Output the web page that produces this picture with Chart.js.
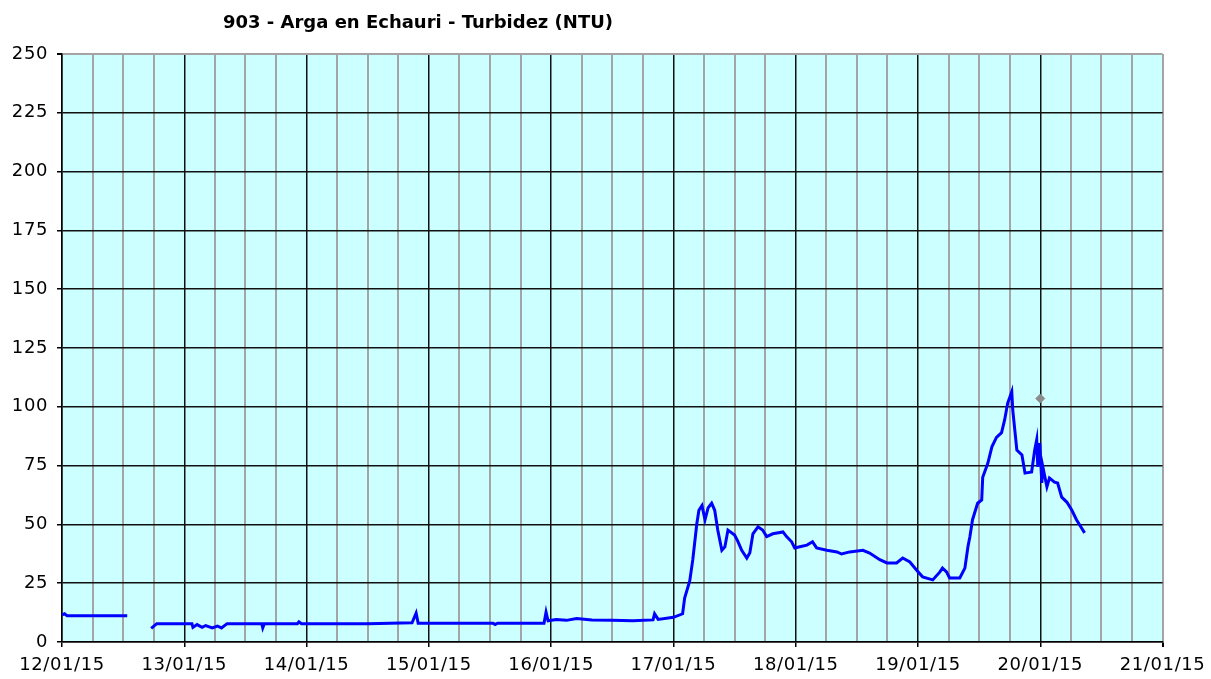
<!DOCTYPE html>
<html>
<head>
<meta charset="utf-8">
<script src="https://cdn.jsdelivr.net/npm/chart.js@4"></script>
<style>
  html, body { margin: 0; padding: 0; background: #fff; }
  #wrap { width: 1211px; height: 679px; }
</style>
</head>
<body>
<div id="wrap"><canvas id="turbChart" width="1211" height="679"></canvas></div>
<script>
// x = hours since 12/01/15 00:00, y = turbidity (NTU); null = gap in the record
const hours = [
  0, 0.5, 1, 12.8, null,
  17.5, 18.6, 25.5, 25.7, 26.5, 27.5, 28.2, 29.5, 30.5, 31.3, 32.4, 39.2, 39.4, 39.7, 46.2, 46.5, 47,
  60, 68.7, 69.5, 69.9, 78, 84.6, 85, 85.5, 94.6, 95, 95.4, 97, 99, 101, 104, 108, 112, 116, 116.3, 117,
  120, 121.8, 122.2, 123.2, 123.8, 124.6, 125, 125.6, 126.2, 126.8, 127.5, 128.1, 128.7, 129.5, 130.1,
  130.7, 132, 132.6, 133.4, 134.4, 135, 135.6, 136.6, 137.5, 138.3, 139.5, 141.5, 142.2, 143.2, 143.8,
  144.8, 146.2, 147.3, 148.1, 150.1, 152.1, 153, 154.6, 157.2, 158.5, 160.5, 161.9, 163.8, 165, 166.4,
  167.7, 168.9, 170.9, 172.3, 172.8, 173.6, 174.2, 176.2, 177.2, 177.8, 178.2, 178.7, 179.7, 180.5,
  180.7, 181.7, 182.5, 183.4, 184.4, 185, 185.6, 186.4, 186.6, 187.4, 188.4, 189, 190.3, 190.9, 191.3,
  191.5, 191.9, 192.3, 192.5, 193.3, 193.8, 194.8, 195.4, 196.2, 197.2, 198.2, 199.1, 200.1, 200.7
];
const ntu = [
  11.5, 12, 11.2, 11.2, null,
  5.8, 7.8, 7.8, 6.2, 7.4, 6.2, 7, 6, 6.8, 6, 7.8, 7.8, 6, 7.8, 7.8, 8.6, 7.8,
  7.8, 8.2, 12.3, 8, 8, 8, 7.4, 8, 8, 12.7, 9, 9.6, 9.2, 10, 9.4, 9.2, 9, 9.4, 12, 9.6,
  10.5, 12, 18.7, 26, 35, 50.5, 56, 58, 52, 57, 59, 56, 47.6, 39, 40.5,
  47.6, 45.5, 43, 39, 35.7, 38, 46, 49, 47.6, 44.8, 46, 46.8, 44.8, 42.6, 40,
  40.5, 41.2, 42.6, 40, 39, 38.3, 37.4, 38.3, 39, 37.8, 35, 33.6, 33.6, 35.7, 34,
  30.6, 27.7, 26.4, 29.8, 31.4, 29.8, 27.2, 27.2, 31.4, 40.5, 45, 52, 59, 60.4,
  70, 76, 83, 87, 89, 94.4, 101.6, 106.4, 98.6, 81.6, 79.5, 71.8, 72.3, 81.6, 86,
  74.5, 84.6, 67.6, 74.5, 66, 69.7, 68, 67.6, 61.6, 59.5, 56, 52, 48.5, 46.4
];
// isolated grey marker
const markerHours = [192];
const markerNtu = [103.5];

const dayLabels = ['12/01/15', '13/01/15', '14/01/15', '15/01/15', '16/01/15',
  '17/01/15', '18/01/15', '19/01/15', '20/01/15', '21/01/15'];
const titleText = '903 - Arga en Echauri - Turbidez (NTU)';

const FONT = 'DejaVu Sans';
const GREY = '#a4a4a4';

const plotBg = {
  id: 'plotBg',
  beforeDraw(chart) {
    const a = chart.chartArea, c = chart.ctx;
    c.fillStyle = '#ccffff';
    c.fillRect(a.left, a.top, a.right - a.left, a.bottom - a.top);
    c.letterSpacing = '0.6px';
  },
  afterDraw(chart) {
    const c = chart.ctx;
    c.save();
    c.letterSpacing = '0px';
    c.font = 'bold 18px "' + FONT + '"';
    c.fillStyle = '#000';
    c.textAlign = 'center';
    c.textBaseline = 'middle';
    c.fillText(titleText, 418, 23);
    c.restore();
  }
};

const ctx = document.getElementById('turbChart').getContext('2d');
new Chart(ctx, {
  type: 'line',
  data: {
    datasets: [{
      data: hours.map((h, i) => ({ x: h, y: ntu[i] })),
      borderColor: '#0000ff',
      borderWidth: 3,
      pointRadius: 0,
      tension: 0,
      spanGaps: false
    }, {
      data: markerHours.map((h, i) => ({ x: h, y: markerNtu[i] })),
      showLine: false,
      pointStyle: 'rectRot',
      pointRadius: 4.5,
      pointBackgroundColor: '#8c8c8c',
      pointBorderColor: '#8c8c8c'
    }]
  },
  options: {
    responsive: false,
    animation: false,
    layout: { padding: { top: 54, right: 48, left: 0, bottom: 0 } },
    plugins: {
      legend: { display: false },
      tooltip: { enabled: false }
    },
    scales: {
      x: {
        type: 'linear',
        min: 0,
        max: 216,
        afterFit(s) { s.height = 37; },
        border: { color: '#000', width: 1.5 },
        grid: {
          color: c => (c.tick && c.tick.value % 24 === 0 && c.tick.value < 216) ? '#111' : GREY,
          lineWidth: c => (c.tick && c.tick.value % 24 === 0 && c.tick.value < 216) ? 1.5 : 2,
          tickColor: c => (c.tick && c.tick.value % 24 === 0) ? '#000' : 'transparent',
          tickLength: 5
        },
        ticks: {
          stepSize: 6,
          autoSkip: false,
          maxRotation: 0,
          padding: 8,
          color: '#000',
          font: { family: FONT, size: 18 },
          callback: v => (v % 24 === 0 ? dayLabels[v / 24] : '')
        }
      },
      y: {
        min: 0,
        max: 250,
        afterFit(s) { s.width = 62; },
        border: { color: '#000', width: 1.5 },
        grid: {
          color: c => (c.tick && c.tick.value === 250) ? GREY : '#111',
          lineWidth: c => (c.tick && c.tick.value === 250) ? 2 : 1.5,
          tickColor: '#000',
          tickLength: 5
        },
        ticks: {
          stepSize: 25,
          padding: 9,
          color: '#000',
          font: { family: FONT, size: 18 }
        }
      }
    }
  },
  plugins: [plotBg]
});
</script>
</body>
</html>
